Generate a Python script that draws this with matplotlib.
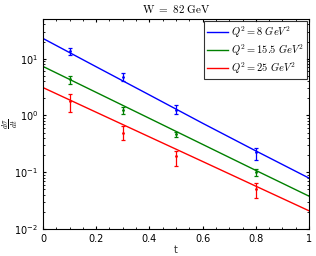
import matplotlib
matplotlib.use('Agg')
import matplotlib.pyplot as plt
import numpy as np

plt.rcParams['mathtext.fontset'] = 'cm'

# fitted curves
t_line = [0.0, 0.2, 0.4, 0.6, 0.8, 1.0]
fit_8 = [22.7, 7.2, 2.3, 0.73, 0.238, 0.079]
fit_15 = [7.3, 2.55, 0.89, 0.31, 0.108, 0.038]
fit_25 = [3.1, 1.14, 0.42, 0.155, 0.057, 0.021]

# measured points
t_pts = [0.1, 0.3, 0.5, 0.8]
val_8 = [13.4, 4.8, 1.27, 0.23]
lo_8 = [11.5, 4.1, 1.07, 0.165]
hi_8 = [15.7, 5.6, 1.5, 0.27]
val_15 = [4.3, 1.27, 0.48, 0.10]
lo_15 = [3.6, 1.05, 0.42, 0.086]
hi_15 = [5.0, 1.42, 0.52, 0.115]
val_25 = [1.78, 0.50, 0.19, 0.05]
lo_25 = [1.16, 0.37, 0.13, 0.036]
hi_25 = [2.4, 0.65, 0.235, 0.066]

labels = [r'$Q^2 = 8\ GeV^2$', r'$Q^2 = 15.5\ GeV^2$', r'$Q^2 = 25\ GeV^2$']
colors = ['#0000ff', '#008000', '#ff0000']

fig = plt.figure(figsize=(3.16, 2.56), dpi=100)
ax = fig.add_axes([0.136, 0.105, 0.842, 0.821])

series = [(fit_8, val_8, lo_8, hi_8), (fit_15, val_15, lo_15, hi_15),
          (fit_25, val_25, lo_25, hi_25)]
for (fit, val, lo, hi), lab, c in zip(series, labels, colors):
    ax.plot(t_line, fit, color=c, lw=1.0, label=lab)
    v = np.array(val)
    err = [v - np.array(lo), np.array(hi) - v]
    ax.errorbar(t_pts, val, yerr=err, fmt='.', color=c, ms=2, lw=0.9,
                capsize=1.5, capthick=0.9)

ax.set_yscale('log')
ax.set_xlim(0, 1)
ax.set_ylim(0.01, 50)
ax.set_xticks([0, 0.2, 0.4, 0.6, 0.8, 1])
ax.set_xticklabels(['0', '0.2', '0.4', '0.6', '0.8', '1'])
ax.tick_params(direction='in', which='both', top=True, right=True, labelsize=7,
               length=2.5)
ax.tick_params(which='minor', length=1.5)
ax.set_xticks(np.arange(0, 1.01, 0.05), minor=True)
for s in ax.spines.values():
    s.set_linewidth(0.8)

ax.set_title(r'$\mathrm{W\ =\ 82\ GeV}$', fontsize=8, pad=4)
ax.set_xlabel('t', fontsize=7, labelpad=1, color='#333333')
ax.set_ylabel(r'$\frac{d\sigma}{dt}$', fontsize=8, rotation=90)
ax.yaxis.set_label_coords(-0.085, 0.5)

leg = ax.legend(loc='upper right', fontsize=7.5, frameon=True, fancybox=False,
                edgecolor='black', handlelength=2.0, borderaxespad=0.2,
                labelspacing=0.25, handletextpad=0.3, borderpad=0.3)
leg.get_frame().set_linewidth(0.8)

fig.savefig('out.png', dpi=100)
